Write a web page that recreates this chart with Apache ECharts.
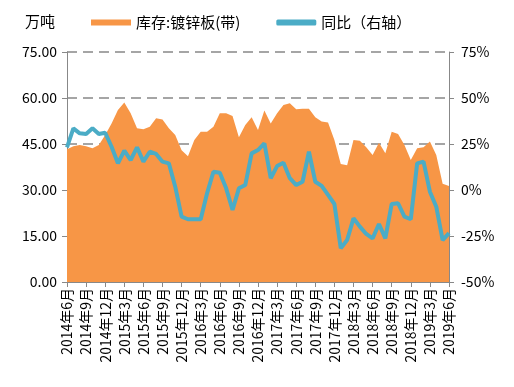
<!DOCTYPE html>
<html><head><meta charset="utf-8">
<script src="https://cdn.jsdelivr.net/npm/echarts@6/dist/echarts.min.js"></script>
<style>html,body{margin:0;padding:0;background:#fff}#c{width:514px;height:387px}</style>
</head><body><div id="c"></div>
<script>
const categories = [
'2014年6月','2014年7月','2014年8月','2014年9月','2014年10月','2014年11月','2014年12月',
'2015年1月','2015年2月','2015年3月','2015年4月','2015年5月','2015年6月','2015年7月','2015年8月','2015年9月','2015年10月','2015年11月','2015年12月',
'2016年1月','2016年2月','2016年3月','2016年4月','2016年5月','2016年6月','2016年7月','2016年8月','2016年9月','2016年10月','2016年11月','2016年12月',
'2017年1月','2017年2月','2017年3月','2017年4月','2017年5月','2017年6月','2017年7月','2017年8月','2017年9月','2017年10月','2017年11月','2017年12月',
'2018年1月','2018年2月','2018年3月','2018年4月','2018年5月','2018年6月','2018年7月','2018年8月','2018年9月','2018年10月','2018年11月','2018年12月',
'2019年1月','2019年2月','2019年3月','2019年4月','2019年5月','2019年6月'];
const inventory = [43.3,44.3,44.7,44.3,43.6,44.7,47.9,51.7,56.1,58.5,55.0,50.1,49.8,50.6,53.4,53.0,50.1,47.9,43.0,41.0,46.3,49.0,49.0,50.6,55.0,55.0,54.1,47.2,51.2,53.7,49.6,55.9,51.7,55.0,57.7,58.3,56.3,56.5,56.5,53.7,52.3,52.0,46.3,38.5,38.1,46.3,46.1,43.9,41.4,45.4,42.0,49.0,48.3,44.7,39.8,43.6,43.9,45.8,41.4,32.0,31.3];
const yoy = [23.2,33.5,30.8,30.4,33.5,30.4,31.1,23.5,14.5,21.4,16.3,23.2,15.4,20.8,19.6,15.4,14.5,1.8,-14.5,-15.9,-15.9,-15.9,-1.8,9.9,9.4,0.9,-10.9,0.9,2.7,19.9,21.7,25.4,6.4,13.0,14.8,6.4,2.7,4.5,20.8,4.5,2.2,-2.7,-7.6,-31.7,-27.2,-15.4,-19.9,-23.9,-26.3,-18.5,-26.3,-7.6,-7.2,-14.5,-15.9,14.5,15.4,-0.9,-9.1,-27.2,-23.5];
const seriesNames = ['库存:镀锌板(带)','同比（右轴）'];
const leftTicks = {min:0,max:75,interval:15};
const rightTicks = {min:-50,max:75,interval:25};

const font = '"Noto Sans CJK SC", "Noto Sans", sans-serif';
const chart = echarts.init(document.getElementById('c'), null, {renderer:'canvas'});
chart.setOption({
  animation:false,
  textStyle:{fontFamily:font},
  title:{text:'万吨',left:20,top:9,textStyle:{fontSize:15,fontWeight:'normal',color:'#000',fontFamily:font}},
  legend:{left:86,top:10,itemGap:36,itemWidth:40,itemHeight:6,
    textStyle:{fontSize:15,color:'#000',fontFamily:font},
    data:[{name:seriesNames[0],icon:'rect'},{name:seriesNames[1],icon:'roundRect'}]},
  grid:{left:67,right:65,top:52,bottom:105},
  xAxis:{type:'category',data:categories,boundaryGap:false,
    axisLine:{lineStyle:{color:'#888'}},
    axisTick:{interval:2,length:5,lineStyle:{color:'#888'}},
    axisLabel:{interval:2,rotate:90,fontSize:14,color:'#000',margin:6,fontFamily:font}},
  yAxis:[
    {type:'value',min:leftTicks.min,max:leftTicks.max,interval:leftTicks.interval,
     axisLine:{show:true,lineStyle:{color:'#888'}},axisTick:{show:true,length:5,lineStyle:{color:'#888'}},
     axisLabel:{formatter:v=>v.toFixed(2),fontSize:14,color:'#000',margin:10,fontFamily:font},
     splitLine:{show:true,lineStyle:{color:'#888',type:[10,6],width:1.5}}},
    {type:'value',min:rightTicks.min,max:rightTicks.max,interval:rightTicks.interval,position:'right',
     axisLine:{show:true,lineStyle:{color:'#888'}},axisTick:{show:true,length:5,lineStyle:{color:'#888'}},
     axisLabel:{formatter:v=>v+'%',fontSize:14,color:'#000',margin:12,fontFamily:font},
     splitLine:{show:false}}
  ],
  series:[
    {name:seriesNames[0],type:'line',data:inventory,yAxisIndex:0,symbol:'none',
     lineStyle:{width:0,color:'#F79646'},itemStyle:{color:'#F79646'},areaStyle:{color:'#F79646',opacity:1}},
    {name:seriesNames[1],type:'line',data:yoy,yAxisIndex:1,symbol:'none',
     lineStyle:{width:4,color:'#4BACC6'},itemStyle:{color:'#4BACC6'}}
  ]
});
</script></body></html>
